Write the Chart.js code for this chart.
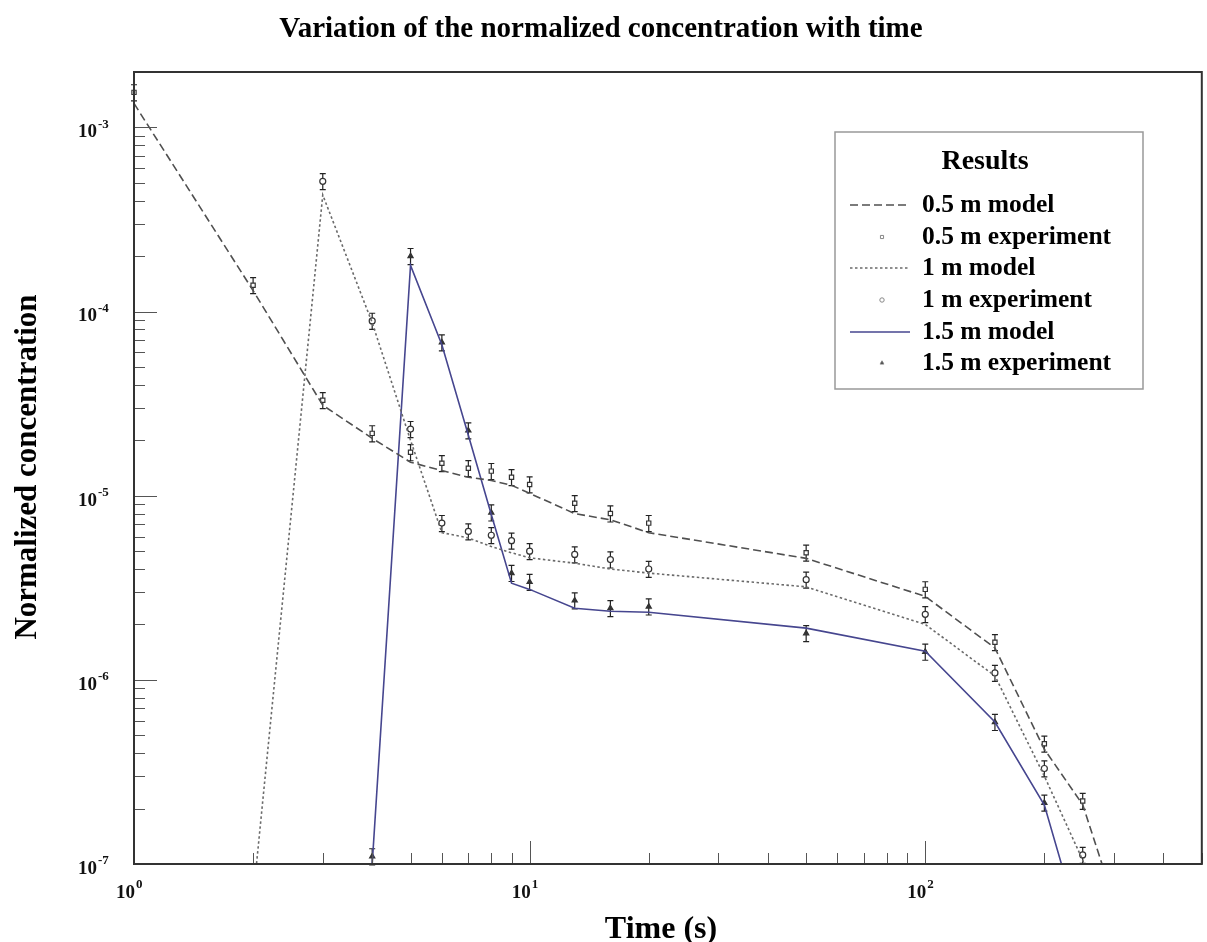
<!DOCTYPE html>
<html lang="en">
<head>
<meta charset="UTF-8" />
<title>Normalized concentration vs time</title>
<script src="https://cdn.jsdelivr.net/npm/chart.js@4.4.0/dist/chart.umd.min.js"></script>
<style>
  html, body { margin: 0; padding: 0; background: #fff; }
  #wrap { width: 1207px; height: 942px; }
</style>
</head>
<body>
<div id="wrap"><canvas id="concChart" width="1207" height="942"></canvas></div>
<script>
// time (s) and normalized concentration for each distance
const model05Times = [1, 2, 3, 4, 5, 6, 7, 8, 9, 10, 13, 16, 20, 50, 100, 150, 200, 250, 300];
const model05 = [1.35e-3, 1.3e-4, 3.1e-5, 2.05e-5, 1.52e-5, 1.37e-5, 1.26e-5, 1.21e-5, 1.14e-5, 1.03e-5,
  8.0e-6, 7.4e-6, 6.3e-6, 4.57e-6, 2.84e-6, 1.49e-6, 4.2e-7, 2.1e-7, 6.3e-8];

const exp05Times = [1, 2, 3, 4, 5, 6, 7, 8, 9, 10, 13, 16, 20, 50, 100, 150, 200, 250];
const exp05 = [1.55e-3, 1.39e-4, 3.3e-5, 2.18e-5, 1.72e-5, 1.5e-5, 1.41e-5, 1.36e-5, 1.26e-5, 1.15e-5,
  9.1e-6, 8.0e-6, 7.1e-6, 4.9e-6, 3.1e-6, 1.6e-6, 4.5e-7, 2.2e-7];

const model1Times = [2, 3, 4, 5, 6, 7, 8, 9, 10, 13, 16, 20, 50, 100, 150, 200, 250, 300];
const model1 = [6.5e-8, 4.3e-4, 8.7e-5, 2.0e-5, 6.3e-6, 5.9e-6, 5.3e-6, 4.9e-6, 4.6e-6, 4.3e-6,
  4.0e-6, 3.8e-6, 3.2e-6, 2.0e-6, 1.05e-6, 3.0e-7, 1.05e-7, 3e-8];

const exp1Times = [3, 4, 5, 6, 7, 8, 9, 10, 13, 16, 20, 50, 100, 150, 200, 250];
const exp1 = [5.1e-4, 8.9e-5, 2.3e-5, 7.1e-6, 6.4e-6, 6.1e-6, 5.7e-6, 5.0e-6, 4.8e-6, 4.5e-6,
  4.0e-6, 3.5e-6, 2.27e-6, 1.09e-6, 3.3e-7, 1.12e-7];

const model15Times = [4, 5, 6, 7, 8, 9, 10, 13, 16, 20, 50, 100, 150, 200, 250];
const model15 = [1.0e-7, 1.78e-4, 6.6e-5, 2.13e-5, 7.9e-6, 3.35e-6, 3.1e-6, 2.45e-6, 2.36e-6, 2.33e-6,
  1.91e-6, 1.43e-6, 5.9e-7, 2.09e-7, 4e-8];

const exp15Times = [4, 5, 6, 7, 8, 9, 10, 13, 16, 20, 50, 100, 150, 200];
const exp15 = [1.1e-7, 2.0e-4, 6.8e-5, 2.26e-5, 8.1e-6, 3.8e-6, 3.4e-6, 2.7e-6, 2.45e-6, 2.5e-6,
  1.79e-6, 1.42e-6, 5.9e-7, 2.15e-7];

const relErr = 0.1; // relative uncertainty on measurements

const xDecades = [0, 1, 2];
const yDecades = [-7, -6, -5, -4, -3];

const FONT = '"Liberation Serif", "Times New Roman", serif';
const NAVY = '#46468f';

function pts(times, vals) {
  return times.map((t, i) => ({ x: t, y: vals[i] }));
}

function modelSet(label, times, vals, color, dash) {
  return {
    label, data: pts(times, vals), borderColor: color, borderWidth: 1.6,
    borderDash: dash, pointRadius: 0, fill: false, tension: 0,
    clip: { left: 2, top: 0, right: 0, bottom: 0 }, isModel: true
  };
}

function expSet(label, times, vals, style, fill) {
  return {
    label, data: pts(times, vals), showLine: false, pointStyle: style,
    pointRadius: 3, pointBorderWidth: 1.2, pointBorderColor: '#333',
    pointBackgroundColor: fill, clip: 10, isExp: true
  };
}

const datasets = [
  modelSet('0.5 m model', model05Times, model05, '#505050', [8, 4]),
  modelSet('1 m model', model1Times, model1, '#6a6a6a', [2.5, 2.5]),
  modelSet('1.5 m model', model15Times, model15, NAVY, []),
  expSet('0.5 m experiment', exp05Times, exp05, 'rect', '#fff'),
  expSet('1 m experiment', exp1Times, exp1, 'circle', '#fff'),
  expSet('1.5 m experiment', exp15Times, exp15, 'triangle', '#333')
];

// vertical error bars with caps, drawn under the markers
const errorBars = {
  id: 'errorBars',
  beforeDatasetsDraw(chart) {
    const ctx = chart.ctx;
    const ys = chart.scales.y;
    ctx.save();
    ctx.strokeStyle = '#222';
    ctx.lineWidth = 1.2;
    chart.data.datasets.forEach((ds, di) => {
      if (!ds.isExp) return;
      chart.getDatasetMeta(di).data.forEach((el, i) => {
        const v = ds.data[i].y;
        const top = ys.getPixelForValue(v * (1 + relErr));
        const bot = ys.getPixelForValue(v * (1 - relErr));
        ctx.beginPath();
        ctx.moveTo(el.x, top); ctx.lineTo(el.x, bot);
        ctx.moveTo(el.x - 3, top); ctx.lineTo(el.x + 3, top);
        ctx.moveTo(el.x - 3, bot); ctx.lineTo(el.x + 3, bot);
        ctx.stroke();
      });
    });
    ctx.restore();
  }
};

function powerLabel(ctx, xRight, yMid, exp) {
  ctx.font = 'bold 19px ' + FONT;
  ctx.textAlign = 'right';
  ctx.textBaseline = 'middle';
  ctx.fillText('10', xRight, yMid);
  ctx.font = 'bold 13px ' + FONT;
  ctx.textAlign = 'left';
  ctx.fillText(String(exp), xRight + 1, yMid - 8);
}

// frame, inward ticks, decade labels, titles and the legend box
const decorations = {
  id: 'decorations',
  afterDraw(chart) {
    const ctx = chart.ctx;
    const a = chart.chartArea;
    const xs = chart.scales.x, ys = chart.scales.y;
    ctx.save();

    // ticks
    ctx.strokeStyle = '#555';
    ctx.lineWidth = 1;
    ctx.beginPath();
    xDecades.forEach(d => {
      for (let k = 1; k <= 9; k++) {
        const v = k * Math.pow(10, d);
        if (v > xs.max) break;
        const px = Math.round(xs.getPixelForValue(v)) + 0.5;
        const len = k === 1 ? 23 : 11;
        ctx.moveTo(px, a.bottom); ctx.lineTo(px, a.bottom - len);
      }
    });
    yDecades.forEach(d => {
      for (let k = 1; k <= 9; k++) {
        const v = k * Math.pow(10, d);
        if (v > ys.max) break;
        const py = Math.round(ys.getPixelForValue(v)) + 0.5;
        const len = k === 1 ? 23 : 11;
        ctx.moveTo(a.left, py); ctx.lineTo(a.left + len, py);
      }
    });
    ctx.stroke();

    // frame
    ctx.strokeStyle = '#333';
    ctx.lineWidth = 2;
    ctx.strokeRect(a.left, a.top, a.right - a.left, a.bottom - a.top);

    // decade labels
    ctx.fillStyle = '#111';
    xDecades.forEach(d => powerLabel(ctx, xs.getPixelForValue(Math.pow(10, d)) + 1, a.bottom + 29, d));
    yDecades.forEach(d => powerLabel(ctx, 97, ys.getPixelForValue(Math.pow(10, d)) + 5, d));

    // titles
    ctx.fillStyle = '#000';
    ctx.textAlign = 'center';
    ctx.textBaseline = 'alphabetic';
    ctx.font = 'bold 29px ' + FONT;
    ctx.fillText('Variation of the normalized concentration with time', 601, 37);
    ctx.font = 'bold 32px ' + FONT;
    ctx.fillText('Time (s)', 661, 938);
    ctx.save();
    ctx.translate(36, 467);
    ctx.rotate(-Math.PI / 2);
    ctx.font = 'bold 31px ' + FONT;
    ctx.fillText('Normalized concentration', 0, 0);
    ctx.restore();

    // legend
    const box = { x: 835, y: 132, w: 308, h: 257 };
    ctx.fillStyle = '#fff';
    ctx.fillRect(box.x, box.y, box.w, box.h);
    ctx.strokeStyle = '#999';
    ctx.lineWidth = 1.5;
    ctx.strokeRect(box.x, box.y, box.w, box.h);
    ctx.fillStyle = '#000';
    ctx.font = 'bold 28px ' + FONT;
    ctx.textAlign = 'center';
    ctx.textBaseline = 'middle';
    ctx.fillText('Results', 985, 162);

    const rowY = [205, 237, 268, 300, 332, 363];
    const order = [0, 3, 1, 4, 2, 5];
    order.forEach((di, r) => {
      const ds = chart.data.datasets[di];
      const y = rowY[r];
      if (ds.isModel) {
        ctx.save();
        ctx.strokeStyle = ds.borderColor;
        ctx.lineWidth = 1.5;
        ctx.setLineDash(ds.borderDash);
        ctx.beginPath();
        ctx.moveTo(850, y); ctx.lineTo(910, y);
        ctx.stroke();
        ctx.restore();
      } else {
        ctx.save();
        ctx.strokeStyle = '#888';
        ctx.fillStyle = ds.pointStyle === 'triangle' ? '#333' : '#fff';
        ctx.lineWidth = 1;
        Chart.helpers.drawPoint(ctx, { pointStyle: ds.pointStyle, radius: 2.2, borderWidth: 1, rotation: 0 }, 882, y);
        ctx.restore();
      }
      ctx.fillStyle = '#000';
      ctx.font = 'bold 25.5px ' + FONT;
      ctx.textAlign = 'left';
      ctx.fillText(ds.label, 922, y);
    });

    ctx.restore();
  }
};

new Chart(document.getElementById('concChart'), {
  type: 'line',
  data: { datasets },
  options: {
    responsive: false,
    animation: false,
    layout: { padding: { left: 134, right: 2, top: 72, bottom: 78 } },
    plugins: {
      legend: { display: false },
      title: { display: false },
      tooltip: { enabled: false }
    },
    scales: {
      x: { type: 'logarithmic', min: 1, max: 500, display: false },
      y: { type: 'logarithmic', min: 1e-7, max: 2e-3, display: false }
    }
  },
  plugins: [errorBars, decorations]
});
</script>
</body>
</html>
